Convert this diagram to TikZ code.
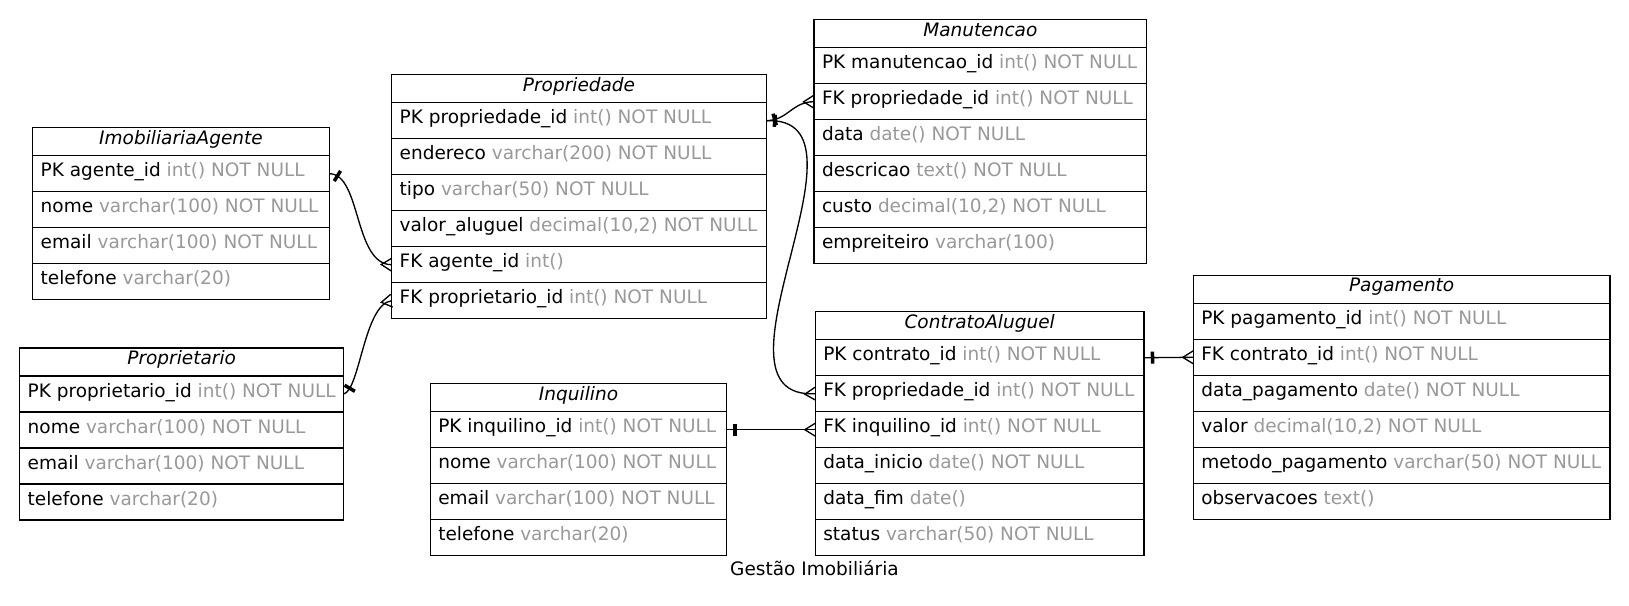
\documentclass[tikz,border=0pt]{standalone}
\usepackage{fontspec}
\setmainfont{DejaVu Sans}
\usetikzlibrary{decorations.markings}
\definecolor{typegray}{RGB}{153,153,153}
\tikzset{
 rowbox/.style={draw=black, line width=1.33pt, rectangle, minimum height=36, inner sep=0pt, outer sep=0pt},
 headbox/.style={rowbox, minimum height=28},
 fieldtext/.style={anchor=base west, inner sep=0pt, font=\fontsize{18.5}{22}\selectfont},
 headtext/.style={anchor=base, inner sep=0pt, font=\fontsize{18.5}{22}\selectfont\itshape},
 rel/.style={line width=1.33pt, draw=black},
 onemark/.style={postaction={decorate, decoration={markings, mark=at position 8.5pt with {\fill[black] (-1.75pt,-6pt) rectangle (1.75pt,6pt);}}}},
 manymark/.style={postaction={decorate, decoration={markings, mark=at position -0.5pt with {\draw[line width=1.33pt, line join=miter] (0.5pt,6.5pt) -- (-10pt,0pt) -- (0.5pt,-6.5pt);}}}},
}
\newcommand\erdhead[5]{%
 \node[headbox, minimum width=#4, anchor=north west] (#1h) at (#2,#3) {};
 \node[headtext] (#1ht) at ({#2+#4/2},{#3+16.6}) {#5};}
\newcommand\erdrow[7]{%
 \node[rowbox, minimum width=#4, anchor=north west] (#1#5) at (#2,{#3+28+36*(#5-1)}) {};
 \node[fieldtext] (#1#5t) at ({#2+7.8},{#3+28+36*(#5-1)+21.2}) {#6 \textcolor{typegray}{#7}};}
\begin{document}
\begin{tikzpicture}[x=1pt,y=-1pt]
\fill[white] (0,0) rectangle (1629,605);
\useasboundingbox (0,0) rectangle (1629,605);
% ImobiliariaAgente
\erdhead{ag}{32.7}{127.7}{296.6}{ImobiliariaAgente}
\erdrow{ag}{32.7}{127.7}{296.6}{1}{PK agente\_id}{int() NOT NULL}
\erdrow{ag}{32.7}{127.7}{296.6}{2}{nome}{varchar(100) NOT NULL}
\erdrow{ag}{32.7}{127.7}{296.6}{3}{email}{varchar(100) NOT NULL}
\erdrow{ag}{32.7}{127.7}{296.6}{4}{telefone}{varchar(20)}
% Propriedade
\erdhead{pr}{391.7}{74.7}{374.6}{Propriedade}
\erdrow{pr}{391.7}{74.7}{374.6}{1}{PK propriedade\_id}{int() NOT NULL}
\erdrow{pr}{391.7}{74.7}{374.6}{2}{endereco}{varchar(200) NOT NULL}
\erdrow{pr}{391.7}{74.7}{374.6}{3}{tipo}{varchar(50) NOT NULL}
\erdrow{pr}{391.7}{74.7}{374.6}{4}{valor\_aluguel}{decimal(10,2) NOT NULL}
\erdrow{pr}{391.7}{74.7}{374.6}{5}{FK agente\_id}{int()}
\erdrow{pr}{391.7}{74.7}{374.6}{6}{FK proprietario\_id}{int() NOT NULL}
% Manutencao
\erdhead{ma}{814}{19.7}{332.7}{Manutencao}
\erdrow{ma}{814}{19.7}{332.7}{1}{PK manutencao\_id}{int() NOT NULL}
\erdrow{ma}{814}{19.7}{332.7}{2}{FK propriedade\_id}{int() NOT NULL}
\erdrow{ma}{814}{19.7}{332.7}{3}{data}{date() NOT NULL}
\erdrow{ma}{814}{19.7}{332.7}{4}{descricao}{text() NOT NULL}
\erdrow{ma}{814}{19.7}{332.7}{5}{custo}{decimal(10,2) NOT NULL}
\erdrow{ma}{814}{19.7}{332.7}{6}{empreiteiro}{varchar(100)}
% Proprietario
\erdhead{po}{19.7}{348}{324}{Proprietario}
\erdrow{po}{19.7}{348}{324}{1}{PK proprietario\_id}{int() NOT NULL}
\erdrow{po}{19.7}{348}{324}{2}{nome}{varchar(100) NOT NULL}
\erdrow{po}{19.7}{348}{324}{3}{email}{varchar(100) NOT NULL}
\erdrow{po}{19.7}{348}{324}{4}{telefone}{varchar(20)}
% Inquilino
\erdhead{iq}{430.3}{383.7}{296.4}{Inquilino}
\erdrow{iq}{430.3}{383.7}{296.4}{1}{PK inquilino\_id}{int() NOT NULL}
\erdrow{iq}{430.3}{383.7}{296.4}{2}{nome}{varchar(100) NOT NULL}
\erdrow{iq}{430.3}{383.7}{296.4}{3}{email}{varchar(100) NOT NULL}
\erdrow{iq}{430.3}{383.7}{296.4}{4}{telefone}{varchar(20)}
% ContratoAluguel
\erdhead{ca}{815.3}{311.7}{328.7}{ContratoAluguel}
\erdrow{ca}{815.3}{311.7}{328.7}{1}{PK contrato\_id}{int() NOT NULL}
\erdrow{ca}{815.3}{311.7}{328.7}{2}{FK propriedade\_id}{int() NOT NULL}
\erdrow{ca}{815.3}{311.7}{328.7}{3}{FK inquilino\_id}{int() NOT NULL}
\erdrow{ca}{815.3}{311.7}{328.7}{4}{data\_inicio}{date() NOT NULL}
\erdrow{ca}{815.3}{311.7}{328.7}{5}{data\_fim}{date()}
\erdrow{ca}{815.3}{311.7}{328.7}{6}{status}{varchar(50) NOT NULL}
% Pagamento
\erdhead{pg}{1193.3}{275.3}{416.7}{Pagamento}
\erdrow{pg}{1193.3}{275.3}{416.7}{1}{PK pagamento\_id}{int() NOT NULL}
\erdrow{pg}{1193.3}{275.3}{416.7}{2}{FK contrato\_id}{int() NOT NULL}
\erdrow{pg}{1193.3}{275.3}{416.7}{3}{data\_pagamento}{date() NOT NULL}
\erdrow{pg}{1193.3}{275.3}{416.7}{4}{valor}{decimal(10,2) NOT NULL}
\erdrow{pg}{1193.3}{275.3}{416.7}{5}{metodo\_pagamento}{varchar(50) NOT NULL}
\erdrow{pg}{1193.3}{275.3}{416.7}{6}{observacoes}{text()}
% relationships
\draw[rel, onemark, manymark] (ag1.east) .. controls +(32,0) and +(-38,0) .. (pr5.west);
\draw[rel, onemark, manymark] (po1.east) .. controls (360,390) and (364,304) .. (pr6.west);
\draw[rel, onemark, manymark] (pr1.east) .. controls (788,120.3) and (792,101.7) .. (ma2.west);
\draw[rel, onemark, manymark] (pr1.east) .. controls (885,115) and (695,400) .. (ca2.west);
\draw[rel, onemark, manymark] (iq1.east) -- (ca3.west);
\draw[rel, onemark, manymark] (ca1.east) -- (pg2.west);
% title
\node[anchor=base, inner sep=0pt, font=\fontsize{18.5}{22}\selectfont] (title) at (814.5,575) {Gestão Imobiliária};
\end{tikzpicture}
\end{document}
